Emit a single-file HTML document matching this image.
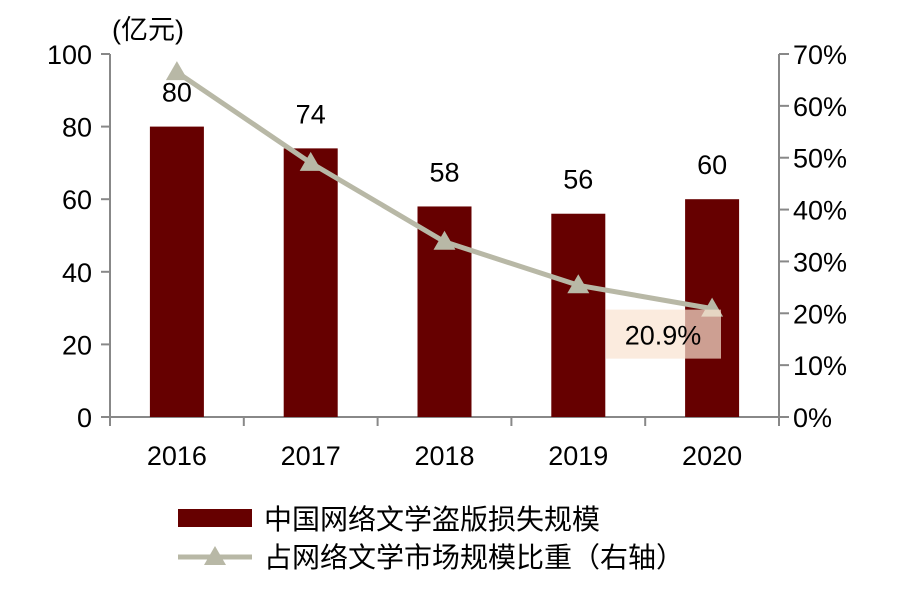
<!DOCTYPE html>
<html><head><meta charset="utf-8"><style>
body{margin:0;background:#fff}
svg text{font-family:"Liberation Sans","Noto Sans CJK SC",sans-serif;fill:#000}
</style></head><body>
<svg id="c" width="907" height="587"></svg>
<script>
const categories=["2016","2017","2018","2019","2020"];
const barValues=[80,74,58,56,60];
const pctValues=[66.5,49,33.8,25.4,20.9];
const leftTicks=[0,20,40,60,80,100];
const rightTicks=[0,10,20,30,40,50,60,70];
const NS="http://www.w3.org/2000/svg";
const svg=document.getElementById('c');
const X0=110,X1=779,Y0=417,Y1=54;
const band=(X1-X0)/categories.length;
const xc=i=>X0+band*(i+0.5);
const yl=v=>Y0-(v/100)*(Y0-Y1);
const yr=v=>Y0-(v/70)*(Y0-Y1);
function mk(t,a,txt){const e=document.createElementNS(NS,t);for(const k in a)e.setAttribute(k,a[k]);if(txt!==undefined)e.textContent=txt;svg.appendChild(e);return e;}
let e=mk('line',{x1:X0,y1:Y1,x2:X0,y2:Y0,stroke:'#888','stroke-width':2});

e=mk('line',{x1:X1,y1:Y1,x2:X1,y2:Y0,stroke:'#888','stroke-width':2});

e=mk('line',{x1:X0,y1:Y0,x2:X1,y2:Y0,stroke:'#888','stroke-width':2});

leftTicks.forEach(v=>{
 mk('line',{x1:X0-9,y1:yl(v),x2:X0,y2:yl(v),stroke:'#888','stroke-width':2});
 const t=mk('text',{x:X0-18,y:yl(v)+10,'text-anchor':'end','font-size':27},v);
 
});
rightTicks.forEach(v=>{
 mk('line',{x1:X1,y1:yr(v),x2:X1+10,y2:yr(v),stroke:'#888','stroke-width':2});
 const t=mk('text',{x:X1+14,y:yr(v)+10,'font-size':27},v+'%');
 
});
for(let i=0;i<=categories.length;i++)mk('line',{x1:X0+band*i,y1:Y0,x2:X0+band*i,y2:Y0+9,stroke:'#888','stroke-width':2});
e=mk('text',{x:112,y:39,'font-size':27},'(亿元)');

categories.forEach((c,i)=>{
 const t=mk('text',{x:xc(i),y:465,'text-anchor':'middle','font-size':27},c);
 
 const b=mk('rect',{x:xc(i)-27,y:yl(barValues[i]),width:54,height:Y0-yl(barValues[i]),fill:'#660000'});
 
 const l=mk('text',{x:xc(i),y:yl(barValues[i])-25,'text-anchor':'middle','font-size':27},barValues[i]);
 
});
const pl=mk('polyline',{points:pctValues.map((v,i)=>xc(i)+','+yr(v)).join(' '),fill:'none',stroke:'#b8b8a6','stroke-width':5,'stroke-linejoin':'round'});

pctValues.forEach((v,i)=>{
 const x=xc(i),y=yr(v);
 const m=mk('polygon',{points:`${x},${y-11} ${x-11},${y+8} ${x+11},${y+8}`,fill:'#b8b8a6'});
 
});
const li=pctValues.length-1;
e=mk('rect',{x:606,y:yr(pctValues[li])+1,width:115,height:49,fill:'rgb(250,226,208)','fill-opacity':0.7});

e=mk('text',{x:663,y:yr(pctValues[li])+36,'text-anchor':'middle','font-size':27},pctValues[li]+'%');

e=mk('rect',{x:178,y:509,width:74,height:18,fill:'#660000'});

e=mk('text',{x:264,y:529,'font-size':28},'中国网络文学盗版损失规模');

e=mk('line',{x1:178,y1:557,x2:252,y2:557,stroke:'#b8b8a6','stroke-width':5});

mk('polygon',{points:'215,546 204,565 226,565',fill:'#b8b8a6'});
e=mk('text',{x:264,y:567,'font-size':28},'占网络文学市场规模比重（右轴）');

</script>
</body></html>
